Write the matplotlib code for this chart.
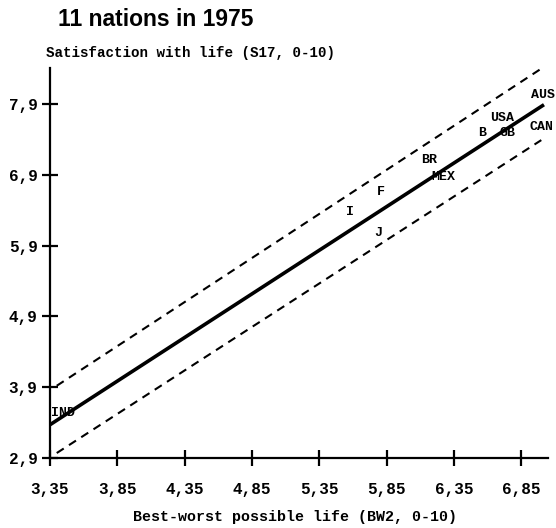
import numpy as np
import matplotlib
matplotlib.use("Agg")
import matplotlib.pyplot as plt

# nations, 1975
nations = ["IND", "I", "F", "J", "BR", "MEX", "B", "USA", "GB", "AUS", "CAN"]
bw2 = [3.45, 5.58, 5.81, 5.79, 6.17, 6.27, 6.56, 6.71, 6.75, 7.01, 7.00]
s17 = [3.54, 6.37, 6.66, 6.08, 7.11, 6.87, 7.49, 7.70, 7.49, 8.03, 7.58]

# regression line and band
fit_x = [3.35, 7.02]
fit_y = [3.37, 7.89]
upper_x = [3.40, 7.00]
upper_y = [3.92, 8.40]
lower_x = [3.40, 7.00]
lower_y = [2.97, 7.39]

xticks = [3.35, 3.85, 4.35, 4.85, 5.35, 5.85, 6.35, 6.85]
xticklabels = ["3,35", "3,85", "4,35", "4,85", "5,35", "5,85", "6,35", "6,85"]
yticks = [2.9, 3.9, 4.9, 5.9, 6.9, 7.9]
yticklabels = ["2,9", "3,9", "4,9", "5,9", "6,9", "7,9"]

W, H = 556, 528
fig = plt.figure(figsize=(W / 100, H / 100), dpi=100)
ax = fig.add_axes([50 / W, (H - 458) / H, (W - 50) / W, (458 - 55) / H])
ax.set_xlim(3.35, 3.35 + 506 / 134.6)
ax.set_ylim(2.9, 2.9 + 403 / 70.8)

mono = "Liberation Mono"

ax.plot(fit_x, fit_y, color="black", lw=2.6, solid_capstyle="butt")
ax.plot(upper_x, upper_y, color="black", lw=1.5, dashes=(4, 3))
ax.plot(lower_x, lower_y, color="black", lw=1.5, dashes=(4, 3))

for n, x, y in zip(nations, bw2, s17):
    ax.text(x, y, n, ha="center", va="center", fontsize=9.5,
            fontweight="bold", family=mono, clip_on=False)

for s in ["top", "right"]:
    ax.spines[s].set_visible(False)
ax.spines["left"].set_bounds(2.9, 8.41)
ax.spines["bottom"].set_bounds(3.35, 7.05)
ax.spines["left"].set_linewidth(1.6)
ax.spines["bottom"].set_linewidth(1.6)

ax.set_xticks(xticks)
ax.set_xticklabels(xticklabels)
ax.set_yticks(yticks)
ax.set_yticklabels(yticklabels)
ax.tick_params(direction="inout", length=12, width=1.6, labelsize=11.5)
ax.tick_params(axis="x", pad=11)
ax.tick_params(axis="y", pad=3)
for lab in ax.get_xticklabels() + ax.get_yticklabels():
    lab.set_family(mono)
    lab.set_fontweight("bold")

fig.text(58 / W, 1 - 19 / H, "11 nations in 1975", fontsize=16.5,
         fontweight="bold", family="Liberation Sans", va="center", ha="left")
fig.text(46 / W, 1 - 53 / H, "Satisfaction with life (S17, 0-10)", fontsize=10.2,
         fontweight="bold", family=mono, va="center", ha="left")
fig.text(295 / W, 1 - 517 / H, "Best-worst possible life (BW2, 0-10)",
         fontsize=10.8, fontweight="bold", family=mono, va="center", ha="center")

fig.savefig("out.png", dpi=100)
